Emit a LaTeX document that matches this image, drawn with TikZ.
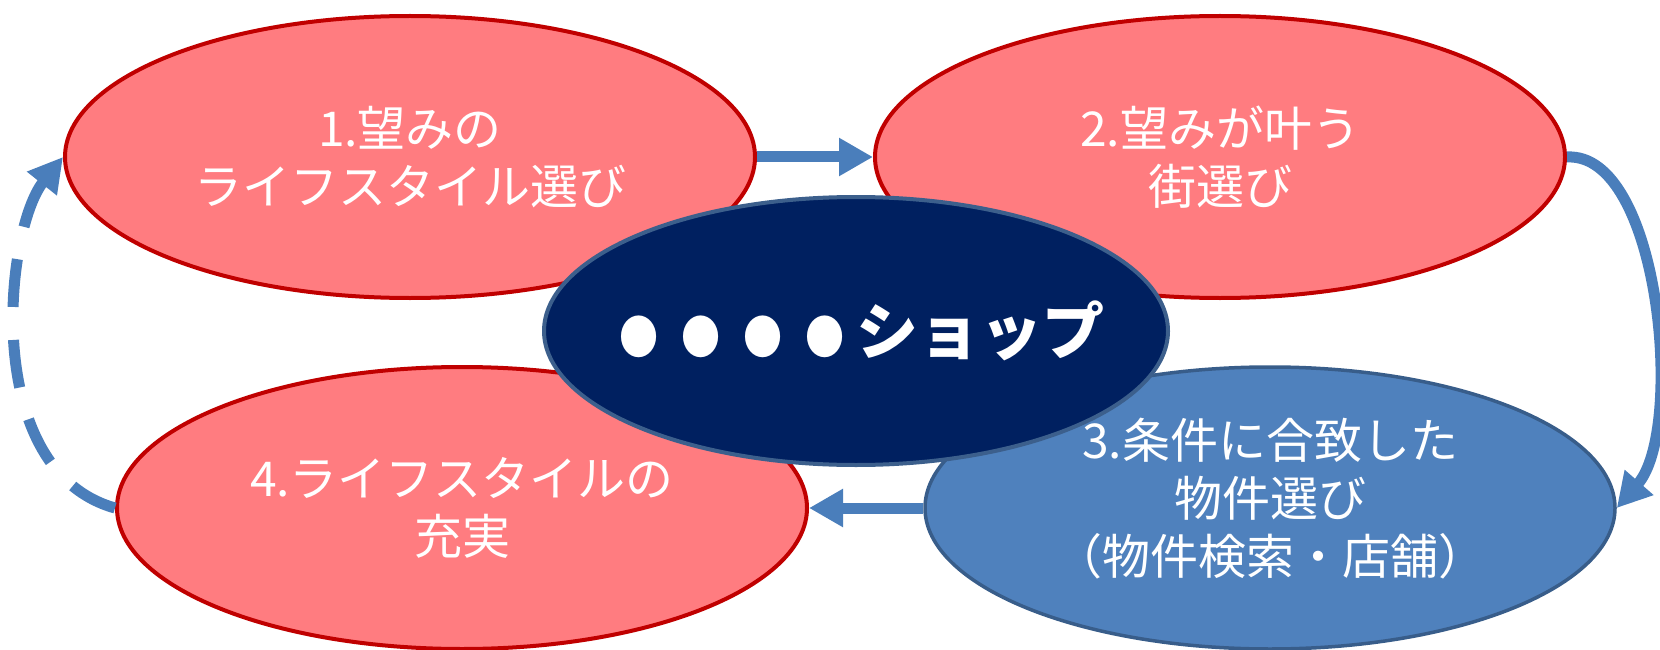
\documentclass[tikz,border=0pt]{standalone}
\usepackage{fontspec}
\setmainfont{Noto Sans CJK JP}
\usetikzlibrary{shapes.geometric,arrows.meta}
\definecolor{redfill}{HTML}{FF7C80}
\definecolor{redline}{HTML}{C00000}
\definecolor{bluefill}{HTML}{4F81BD}
\definecolor{blueline}{HTML}{385D8A}
\definecolor{navyfill}{HTML}{002060}
\definecolor{navyline}{HTML}{3C5F8C}
\definecolor{arrowblue}{HTML}{4A7EBB}
\newcommand{\hubdot}{\makebox[1.0em]{\scalebox{0.63}[0.75]{●}}}
\begin{document}
\begin{tikzpicture}[x=1pt,y=-1pt,
  bubble/.style={ellipse, inner sep=0pt, minimum width=690pt, minimum height=282pt,
    text=white, align=center, font=\fontsize{48}{58}\selectfont},
  redell/.style={bubble, draw=redline, fill=redfill, line width=4pt},
  blueell/.style={bubble, draw=blueline, fill=bluefill, line width=3.5pt},
  hubell/.style={ellipse, inner sep=0pt, minimum width=624pt, minimum height=268pt,
    draw=navyline, fill=navyfill, line width=4pt, text=white,
    font=\fontsize{62}{66}\selectfont\bfseries},
  arr/.style={draw=arrowblue, line width=11pt, -{Triangle[length=34pt,width=36pt]}},
  dasharr/.style={arr, dash pattern=on 48pt off 33pt}]
\useasboundingbox (0,0) rectangle (1660,650);
\node[redell] (e1) at (410,157) {1.望みの\\ライフスタイル選び};
\node[redell] (e2) at (1220,157) {2.望みが叶う\\街選び};
\node[blueell, text depth=24pt] (e3) at (1270,508) {3.条件に合致した\\物件選び\\（物件検索・店舗）};
\node[redell] (e4) at (462,508) {4.ライフスタイルの\\充実};
\draw[arr] (e1.east) -- (e2.west);
\draw[arr] (e3.west) -- (e4.east);
\draw[arr] (e2.east) .. controls (1660,152) and (1685,430) .. (e3.east);
\draw[dasharr] (e4.west) .. controls (-20,470) and (5,230) .. (e1.west);
\node[hubell] (hub) at (856,331) {\makebox[0pt]{\hubdot\hubdot\hubdot\hubdot ショップ}};
\end{tikzpicture}
\end{document}
